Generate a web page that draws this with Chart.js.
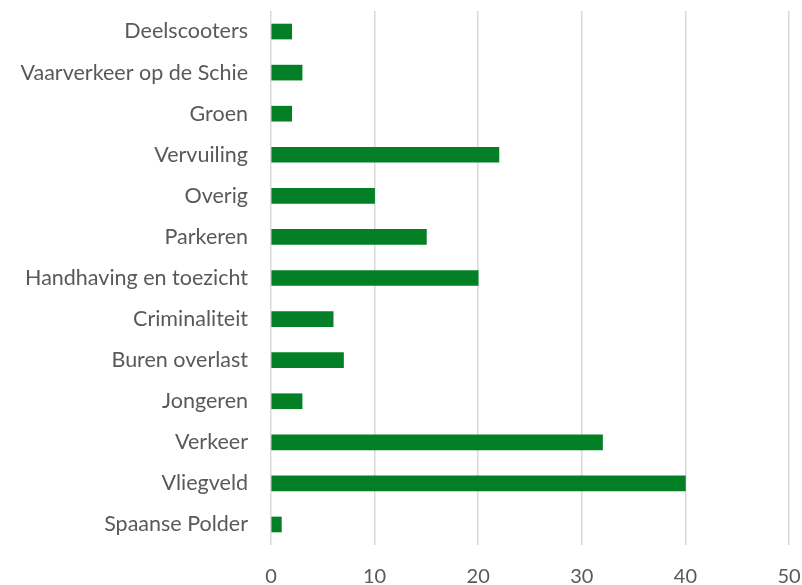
<!DOCTYPE html>
<html lang="nl">
<head>
    <meta charset="UTF-8">
    <title>Onderwerpen</title>
    <script src="https://cdn.jsdelivr.net/npm/chart.js"></script>
    <style>
        html, body { margin: 0; padding: 0; background: white; }
        #wrap { width: 802px; height: 585px; position: relative; }
    </style>
</head>
<body>
    <div id="wrap"><canvas id="chart"></canvas></div>

    <script>
        // categories top to bottom, as in the picture
        const categories = [
            "Deelscooters", "Vaarverkeer op de Schie", "Groen", "Vervuiling", "Overig",
            "Parkeren", "Handhaving en toezicht", "Criminaliteit", "Buren overlast",
            "Jongeren", "Verkeer", "Vliegveld", "Spaanse Polder"
        ];
        const counts = [2, 3, 2, 22, 10, 15, 20, 6, 7, 3, 32, 40, 1];
        const xTicks = [0, 10, 20, 30, 40, 50];

        const font = "Lato, sans-serif";

        new Chart(document.getElementById("chart"), {
            type: "bar",
            data: {
                labels: categories,
                datasets: [{
                    data: counts,
                    backgroundColor: "#038025",
                    barThickness: 15
                }]
            },
            options: {
                indexAxis: "y",
                responsive: true,
                maintainAspectRatio: false,
                animation: false,
                layout: { padding: { top: 11, right: 13, left: 0, bottom: 0 } },
                plugins: { legend: { display: false }, tooltip: { enabled: false } },
                scales: {
                    x: {
                        min: xTicks[0],
                        max: xTicks[xTicks.length - 1],
                        afterBuildTicks: s => { s.ticks = xTicks.map(v => ({ value: v })); },
                        grid: { color: "#d9d9d9", lineWidth: 1.5, drawTicks: false },
                        border: { display: false },
                        ticks: { color: "#595959", font: { family: font, size: 20 }, padding: 20, maxRotation: 0 },
                        afterFit: s => { s.height = 40; s.paddingLeft = 0; s.paddingRight = 0; }
                    },
                    y: {
                        grid: { display: false },
                        border: { display: false },
                        ticks: { color: "#595959", font: { family: font, size: 21.5 }, padding: 15, autoSkip: false },
                        afterFit: s => { s.width = 271; s.paddingTop = 0; s.paddingBottom = 0; }
                    }
                }
            }
        });
    </script>
</body>
</html>
